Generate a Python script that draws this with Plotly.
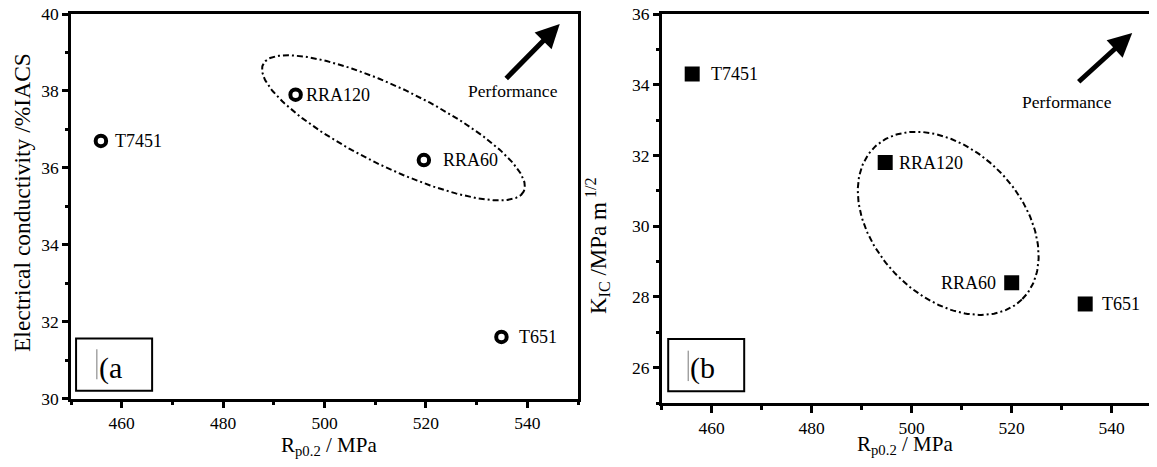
import numpy as np
import plotly.graph_objects as go

W, H = 1157, 467
OFF = 8  # page body margin that shifts the drawn figure

# ---- data ----
samples = ["T7451", "RRA120", "RRA60", "T651"]
rp02_a = [455.9, 494.3, 519.6, 534.9]
cond_a = [36.7, 37.9, 36.2, 31.6]
rp02_b = [456.1, 494.7, 520.0, 534.7]
kic_b = [34.3, 31.8, 28.4, 27.8]

xrange_a = [450, 550]
yrange_a = [30, 40]
xrange_b = [450, 549.06]
yrange_b = [25, 36]

# label offsets (px) from marker centre
shift_a = [12, 8, 17, 16]
shift_b = [17, 12, -14, 15]

# pixel geometry of the panels (target picture coords)
A_px = dict(x0=71, x1=578, y0=14, y1=398.5)
B_px = dict(x0=661.7, x1=1157, y0=14, y1=403)

FONT = "Liberation Serif"

fig = go.Figure()

def sx(p, rng):
    return (p["x1"] - p["x0"]) / (rng[1] - rng[0])

def sy(p, rng):
    return (p["y1"] - p["y0"]) / (rng[1] - rng[0])

def px(x):
    return (x - OFF) / W

def py(y):
    return 1 - (y - OFF) / H

def ellipse(cx, cy, a_px, b_px, ang_deg, p, xr, yr):
    t = np.linspace(0, 2 * np.pi, 240)
    ang = np.deg2rad(ang_deg)
    dx = a_px * np.cos(t) * np.cos(ang) - b_px * np.sin(t) * np.sin(ang)
    dy = a_px * np.cos(t) * np.sin(ang) + b_px * np.sin(t) * np.cos(ang)
    return cx + dx / sx(p, xr), cy - dy / sy(p, yr)

# panel (a) points
fig.add_trace(go.Scatter(
    x=rp02_a, y=cond_a, mode="markers", xaxis="x", yaxis="y",
    marker=dict(symbol="circle-open", size=10.5, color="black", line=dict(width=4)),
    showlegend=False, hoverinfo="skip"))
# panel (b) points
fig.add_trace(go.Scatter(
    x=rp02_b, y=kic_b, mode="markers", xaxis="x2", yaxis="y2",
    marker=dict(symbol="square", size=15, color="black"),
    showlegend=False, hoverinfo="skip"))

# ellipses
ex, ey = ellipse(513.6, 37.04, 145, 39, 26, A_px, xrange_a, yrange_a)
fig.add_trace(go.Scatter(x=ex, y=ey, mode="lines", xaxis="x", yaxis="y",
                         line=dict(color="black", width=2, dash="6px,3px,2px,3px"),
                         showlegend=False, hoverinfo="skip"))
ex2, ey2 = ellipse(507.3, 30.08, 106, 73, 46, B_px, xrange_b, yrange_b)
fig.add_trace(go.Scatter(x=ex2, y=ey2, mode="lines", xaxis="x2", yaxis="y2",
                         line=dict(color="black", width=2, dash="6px,3px,2px,3px"),
                         showlegend=False, hoverinfo="skip"))

ann = []
# point labels
for s, x, y, d in zip(samples, rp02_a, cond_a, shift_a):
    ann.append(dict(x=x, y=y, xref="x", yref="y", text=s, showarrow=False,
                    xanchor="left" if d > 0 else "right", yanchor="middle", xshift=d,
                    font=dict(family=FONT, size=18, color="black")))
for s, x, y, d in zip(samples, rp02_b, kic_b, shift_b):
    ann.append(dict(x=x, y=y, xref="x2", yref="y2", text=s, showarrow=False,
                    xanchor="left" if d > 0 else "right", yanchor="middle", xshift=d,
                    font=dict(family=FONT, size=18, color="black")))

# arrows + "Performance"
ann.append(dict(x=546.4, y=39.74, xref="x", yref="y", ax=-55, ay=56, text="",
                showarrow=True, arrowhead=2, arrowsize=0.95, arrowwidth=5, arrowcolor="black"))
ann.append(dict(x=537.1, y=38.0, xref="x", yref="y", text="Performance", showarrow=False,
                xanchor="center", yanchor="middle",
                font=dict(family=FONT, size=17.5, color="black")))
ann.append(dict(x=544.1, y=35.46, xref="x2", yref="y2", ax=-55, ay=50, text="",
                showarrow=True, arrowhead=2, arrowsize=0.95, arrowwidth=5, arrowcolor="black"))
ann.append(dict(x=531.1, y=33.5, xref="x2", yref="y2", text="Performance", showarrow=False,
                xanchor="center", yanchor="middle",
                font=dict(family=FONT, size=17.5, color="black")))

# panel labels
ann.append(dict(x=457.8, y=30.8, xref="x", yref="y", text="(a", showarrow=False,
                xanchor="center", yanchor="middle", font=dict(family=FONT, size=30, color="black")))
ann.append(dict(x=458.1, y=25.98, xref="x2", yref="y2", text="(b", showarrow=False,
                xanchor="center", yanchor="middle", font=dict(family=FONT, size=30, color="black")))

# axis titles
ann.append(dict(x=px(22), y=py(203), xref="paper", yref="paper", textangle=-90,
                xanchor="center", yanchor="middle",
                text="Electrical conductivity /%IACS", showarrow=False,
                font=dict(family=FONT, size=23.5, color="black")))
ann.append(dict(x=px(329), y=py(446), xref="paper", yref="paper",
                xanchor="center", yanchor="middle",
                text="R<sub>p0.2</sub> / MPa", showarrow=False,
                font=dict(family=FONT, size=21, color="black")))
ann.append(dict(x=px(905), y=py(445), xref="paper", yref="paper",
                xanchor="center", yanchor="middle",
                text="R<sub>p0.2</sub> / MPa", showarrow=False,
                font=dict(family=FONT, size=21, color="black")))
ann.append(dict(x=px(598), y=py(246), xref="paper", yref="paper", textangle=-90,
                xanchor="center", yanchor="middle",
                text="K<sub>IC</sub> /MPa m<sup> 1/2</sup>", showarrow=False,
                font=dict(family=FONT, size=23, color="black")))

shapes = [
    dict(type="rect", xref="x", yref="y", x0=451.0, x1=466.0, y0=30.2, y1=31.56,
         line=dict(color="black", width=2)),
    dict(type="rect", xref="x2", yref="y2", x0=451.3, x1=466.5, y0=25.33, y1=26.81,
         line=dict(color="black", width=2)),
    dict(type="line", xref="x", yref="y", x0=455.1, x1=455.1, y0=30.5, y1=31.28,
         line=dict(color="#777777", width=1)),
    dict(type="line", xref="x2", yref="y2", x0=455.3, x1=455.3, y0=25.62, y1=26.48,
         line=dict(color="#777777", width=1)),
]

def xax(rng, dom, anchor, mirror):
    return dict(range=rng, domain=dom, anchor=anchor, showgrid=False, zeroline=False,
                showline=True, linecolor="black", linewidth=2.5, mirror=mirror,
                ticks="outside", ticklen=7, tickwidth=2.5, tickcolor="black",
                tick0=460, dtick=20, automargin=False, ticklabeloverflow="allow",
                minor=dict(ticks="outside", ticklen=4, tickwidth=2.5, tickcolor="black",
                           dtick=10, tick0=450, showgrid=False),
                tickfont=dict(family=FONT, size=17.5, color="black"))

def yax(rng, dom, anchor, mirror):
    return dict(range=rng, domain=dom, anchor=anchor, showgrid=False, zeroline=False,
                showline=True, linecolor="black", linewidth=2.5, mirror=mirror,
                ticks="outside", ticklen=6, tickwidth=2.5, tickcolor="black",
                tick0=0, dtick=2, automargin=False, ticklabeloverflow="allow",
                minor=dict(ticks="outside", ticklen=3, tickwidth=2.5, tickcolor="black",
                           dtick=1, tick0=1, showgrid=False),
                tickfont=dict(family=FONT, size=17.5, color="black"))

fig.update_layout(
    width=W, height=H, margin=dict(l=0, r=0, t=0, b=0, pad=0, autoexpand=False),
    autosize=False,
    font=dict(family=FONT, color="black"),
    paper_bgcolor="white", plot_bgcolor="white",
    xaxis=xax(xrange_a, [px(A_px["x0"]), px(A_px["x1"])], "y", True),
    yaxis=yax(yrange_a, [py(A_px["y1"]), py(A_px["y0"])], "x", True),
    xaxis2=xax(xrange_b, [px(B_px["x0"]), px(B_px["x1"])], "y2", True),
    yaxis2=yax(yrange_b, [py(B_px["y1"]), py(B_px["y0"])], "x2", False),
    annotations=ann, shapes=shapes,
)

fig.write_html("out.html")
